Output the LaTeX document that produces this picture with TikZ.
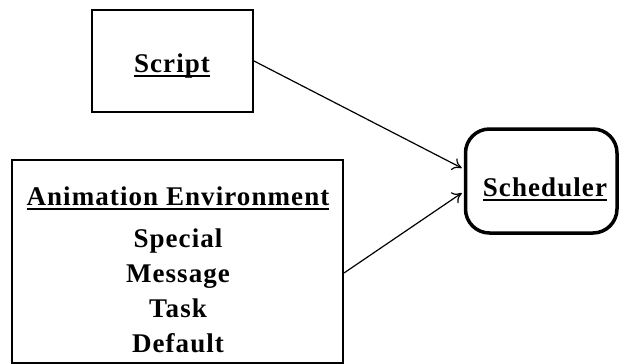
\documentclass[tikz,border=0pt]{standalone}
\usepackage{fontspec}
\setmainfont{Liberation Serif}[LetterSpace=4]
\usetikzlibrary{arrows.meta,calc}
% heavier underline placed a little below the baseline
\newcommand\heavyul[1]{\setbox0\hbox{#1}\leavevmode\rlap{\rule[-5pt]{\wd0}{2.2pt}}\box0}
\begin{document}
\begin{tikzpicture}[x=1pt,y=-1pt,
  box/.style={draw, line width=2pt, inner sep=0pt},
  roundbox/.style={draw, line width=3.5pt, rounded corners=24pt, inner sep=0pt},
  label/.style={font=\fontsize{27}{35}\selectfont\bfseries, inner sep=0pt, align=center},
  link/.style={line width=1.2pt, -{To[length=9pt,width=13pt]}}]
  \useasboundingbox (0,0) rectangle (619,364);
  % boxes
  \node[box, minimum width=161pt, minimum height=102pt] (script) at (172.5,61) {};
  \node[box, minimum width=331pt, minimum height=203pt] (anim) at (177.5,261.5) {};
  \node[roundbox, minimum width=151.5pt, minimum height=104pt] (sched) at (541.25,181) {};
  % texts
  \node[label, anchor=base] (scripttext) at (172,72) {\heavyul{Script}};
  \node[label, anchor=base] (schedtext) at (545,196) {\heavyul{Scheduler}};
  \node[label, anchor=base] (animtitle) at (178,205) {\heavyul{Animation Environment}};
  \node[label, anchor=base] (animlist) at (178,352) {Special\\Message\\Task\\Default};
  % connectors
  \coordinate (schedA) at ($(sched.west)+(-2,-13)$);
  \coordinate (schedB) at ($(sched.west)+(-2,12)$);
  \coordinate (animout) at ($(anim.east)+(0,11.5)$);
  \draw[link] (script.east) -- (schedA);
  \draw[link] (animout) -- (schedB);
\end{tikzpicture}
\end{document}
